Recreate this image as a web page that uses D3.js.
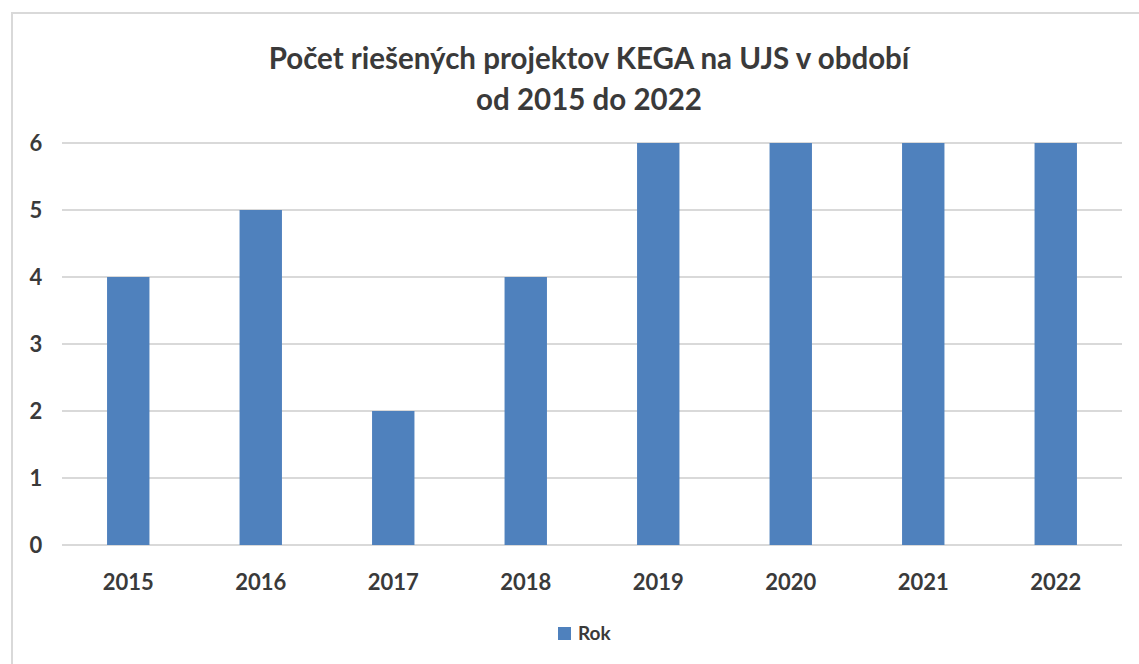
<!DOCTYPE html>
<html>
<head>
<meta charset="utf-8">
<script src="https://cdn.jsdelivr.net/npm/d3@7"></script>
<style>
  body { margin: 0; background: #fff; }
  text { font-family: Lato, "Open Sans", sans-serif; }
</style>
</head>
<body>
<script>
const years = ['2015', '2016', '2017', '2018', '2019', '2020', '2021', '2022'];
const projects = [4, 5, 2, 4, 6, 6, 6, 6];
const yTicks = [0, 1, 2, 3, 4, 5, 6];
const titleLines = ['Počet riešených projektov KEGA na UJS v období', 'od 2015 do 2022'];
const seriesName = 'Rok';

const width = 1139, height = 664;
const margin = {left: 62, right: 17, top: 143, bottom: 119};
const barColor = '#4F81BD', textColor = '#3a3a3a';

const svg = d3.select('body')
    .append('svg')
    .attr('width', width)
    .attr('height', height);

// chart frame
svg.append('rect')
    .attr('x', 12).attr('y', 13)
    .attr('width', width + 10).attr('height', height + 10)
    .attr('fill', 'none')
    .attr('stroke', '#d9d9d9')
    .attr('stroke-width', 2);

const x = d3.scaleBand()
    .domain(years)
    .range([margin.left, width - margin.right])
    .paddingInner(0.68)
    .paddingOuter(0.34);

const y = d3.scaleLinear()
    .domain([0, 6])
    .range([height - margin.bottom, margin.top]);

// gridlines
svg.append('g')
    .selectAll('line')
    .data(yTicks)
    .enter()
    .append('line')
    .attr('x1', margin.left)
    .attr('x2', width - margin.right)
    .attr('y1', d => y(d))
    .attr('y2', d => y(d))
    .attr('stroke', '#d9d9d9')
    .attr('stroke-width', 2);

svg.append('g')
    .selectAll('text')
    .data(yTicks)
    .enter()
    .append('text')
    .text(d => d)
    .attr('x', 36)
    .attr('y', d => y(d))
    .attr('dy', '0.35em')
    .attr('text-anchor', 'middle')
    .attr('font-size', 22)
    .attr('font-weight', 'bold')
    .attr('fill', textColor);

svg.append('g')
    .selectAll('rect')
    .data(projects)
    .enter()
    .append('rect')
    .attr('x', (d, i) => x(years[i]))
    .attr('width', x.bandwidth())
    .attr('y', d => y(d))
    .attr('height', d => y(0) - y(d))
    .attr('fill', barColor);

svg.append('g')
    .selectAll('text')
    .data(years)
    .enter()
    .append('text')
    .text(d => d)
    .attr('x', d => x(d) + x.bandwidth() / 2)
    .attr('y', 582)
    .attr('dy', '0.35em')
    .attr('text-anchor', 'middle')
    .attr('font-size', 22)
    .attr('font-weight', 'bold')
    .attr('fill', textColor);

svg.append('g')
    .selectAll('text')
    .data(titleLines)
    .enter()
    .append('text')
    .text(d => d)
    .attr('x', 589)
    .attr('y', (d, i) => 59 + i * 41)
    .attr('dy', '0.35em')
    .attr('text-anchor', 'middle')
    .attr('font-size', 29.5)
    .attr('font-weight', 'bold')
    .attr('fill', textColor);

// legend
const legend = svg.append('g').attr('transform', 'translate(558,633)');
legend.append('rect')
    .attr('x', 0).attr('y', -6)
    .attr('width', 13).attr('height', 13)
    .attr('fill', barColor);
legend.append('text')
    .text(seriesName)
    .attr('x', 20)
    .attr('dy', '0.35em')
    .attr('font-size', 19)
    .attr('font-weight', 'bold')
    .attr('fill', textColor);
</script>
</body>
</html>
